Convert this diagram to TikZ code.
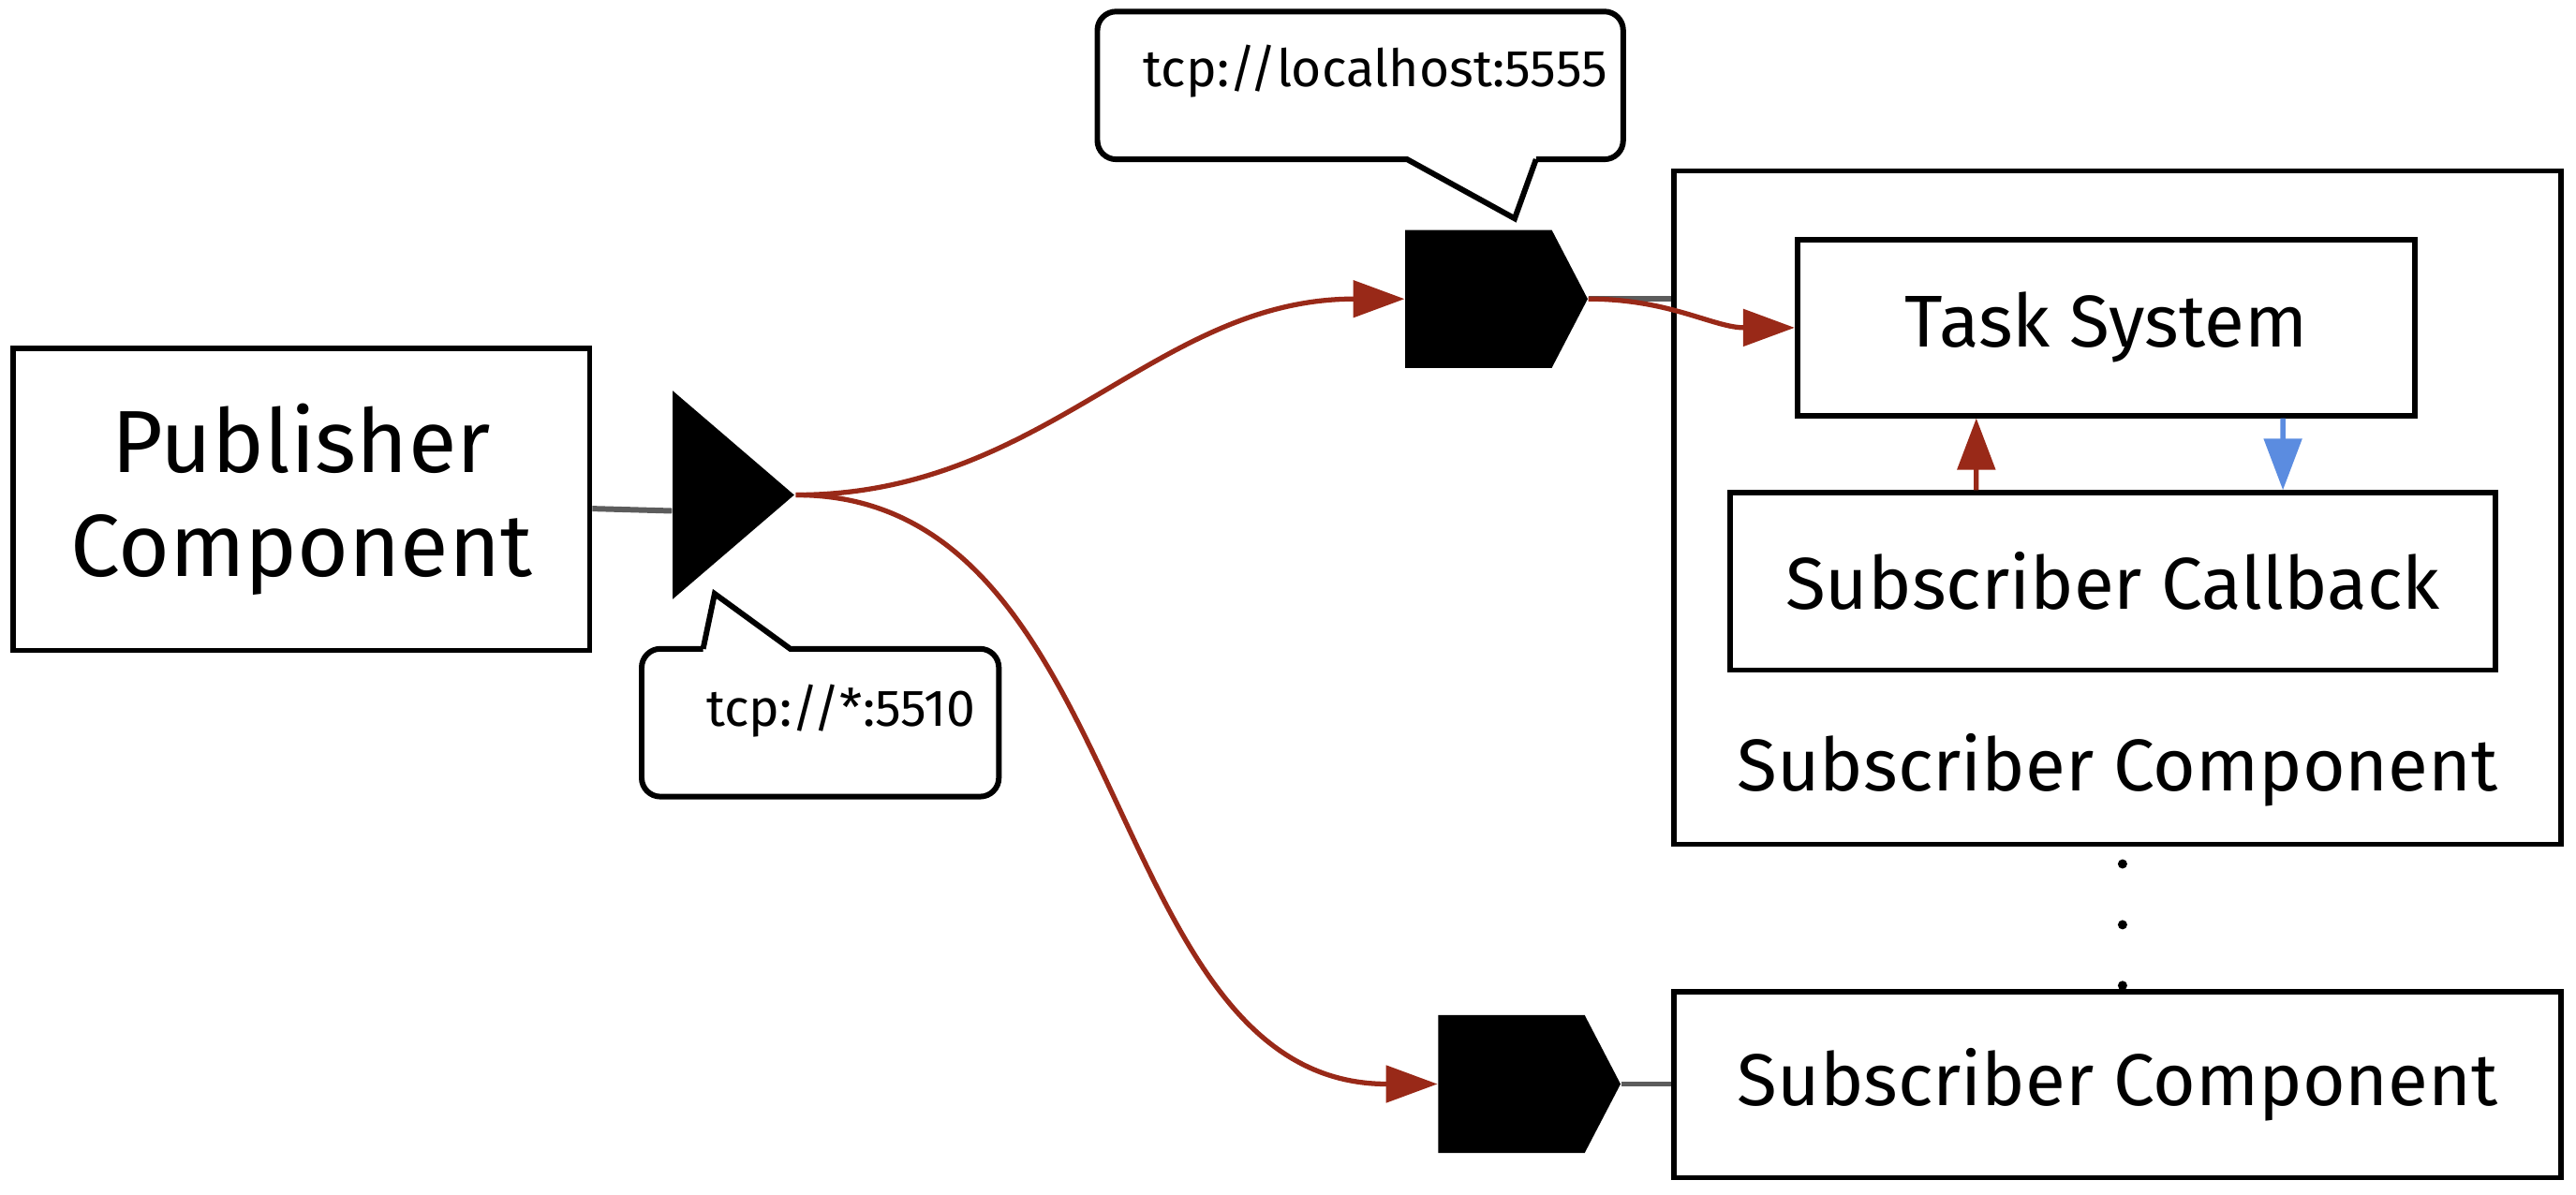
\documentclass[tikz,border=0pt]{standalone}
\usepackage{fontspec}
\setmainfont{Fira Sans}
\usepackage{tikz}
\usetikzlibrary{arrows.meta,positioning,calc,shapes.geometric,shapes.symbols}
\definecolor{PipeRed}{RGB}{153,41,24}
\definecolor{PipeBlue}{RGB}{91,140,224}
\definecolor{LinkGray}{RGB}{92,92,92}

\begin{document}
\begin{tikzpicture}[box/.style={draw,line width=1.6pt,inner sep=0pt,align=center,
 font=\fontsize{22.3}{26.8}\selectfont},
 sock/.style={fill=black,inner sep=0pt},
 pipe/.style={-{Triangle[length=5.5mm,width=3.9mm]},line width=1.5pt,draw=PipeRed},
 link/.style={line width=1.7pt,draw=LinkGray},
 tick/.style={-{Triangle[length=5.5mm,width=4mm]},line width=1.5pt},
 bubble/.style={draw,line width=1.7pt,fill=white},
 addr/.style={inner sep=0pt,font=\fontsize{15.7}{18.8}\selectfont}]
\useasboundingbox (0,0) rectangle (27.5,-12.76);
% publisher side
\node[box,minimum width=6.156cm,minimum height=3.227cm,
 font=\fontsize{26.8}{31.6}\selectfont] (pub) at (3.218,-5.331) {Publisher\\Component};
\node[sock,isosceles triangle,isosceles triangle stretches,minimum width=2.227cm,
 minimum height=1.298cm,anchor=west] (pubsock) at (7.173,-5.285) {};
\draw[link] ($(pub.east)+(0,-0.1)$) -- ($(pubsock.west)+(0,-0.17)$);
% subscriber sockets
\node[sock,signal,signal to=east,signal pointer angle=125,minimum width=1.947cm,
 minimum height=1.473cm,anchor=west] (sub1sock) at (14.995,-3.192) {};
\node[sock,signal,signal to=east,signal pointer angle=125,minimum width=1.947cm,
 minimum height=1.473cm,anchor=west] (sub2sock) at (15.346,-11.575) {};
% subscriber components
\node[box,minimum width=9.471cm,minimum height=7.19cm] (sub1) at (22.607,-5.419) {};
\node[box,minimum width=6.594cm,minimum height=1.877cm] (task) at (22.484,-3.499) {Task System};
\node[box,minimum width=8.173cm,minimum height=1.894cm] (cb) at (22.554,-6.208) {Subscriber Callback};
\node[font=\fontsize{22.3}{26.8}\selectfont] (sub1lbl) at (22.606,-8.225) {Subscriber Component};
\node[box,minimum width=9.471cm,minimum height=1.982cm] (sub2) at (22.607,-11.584) {Subscriber Component};
\foreach \y in {9.225,9.874,10.523}
 \fill (22.659,-\y) circle (0.05);
% connectors
\draw[link] (sub1sock.east) -- (sub1sock.east -| sub1.west);
\draw[link] (sub2sock.east) -- (sub2sock.east -| sub2.west);
\draw[pipe] (pubsock.apex) to[out=0,in=180] (sub1sock.west);
\draw[pipe] (pubsock.apex) to[out=0,in=180] (sub2sock.west);
\draw[pipe] (sub1sock.east) to[out=0,in=180] (task.west);
\draw[tick,draw=PipeRed,fill=PipeRed] ([xshift=-1.456cm]cb.north) -- ([xshift=-1.386cm]task.south);
\draw[tick,draw=PipeBlue,fill=PipeBlue] ([xshift=1.887cm]task.south) -- ([xshift=1.817cm]cb.north);
% address bubbles
\draw[bubble] (16.398,-1.701) -- (16.170,-2.333) -- (15.021,-1.701)
 [rounded corners=2mm] -- (11.715,-1.701) -- (11.715,-0.123) -- (17.328,-0.123)
 -- (17.328,-1.701) -- (16.398,-1.701);
\node[addr,anchor=base east] (connaddr) at (17.17,-0.93) {tcp://localhost:5555};
\draw[bubble] (7.506,-6.928) -- (7.629,-6.340) -- (8.436,-6.928)
 [rounded corners=2mm] -- (10.663,-6.928) -- (10.663,-8.506) -- (6.850,-8.506)
 -- (6.850,-6.928) -- (7.506,-6.928);
\node[addr,anchor=base east] (bindaddr) at (10.42,-7.752) {tcp://*:5510};
\end{tikzpicture}
\end{document}
